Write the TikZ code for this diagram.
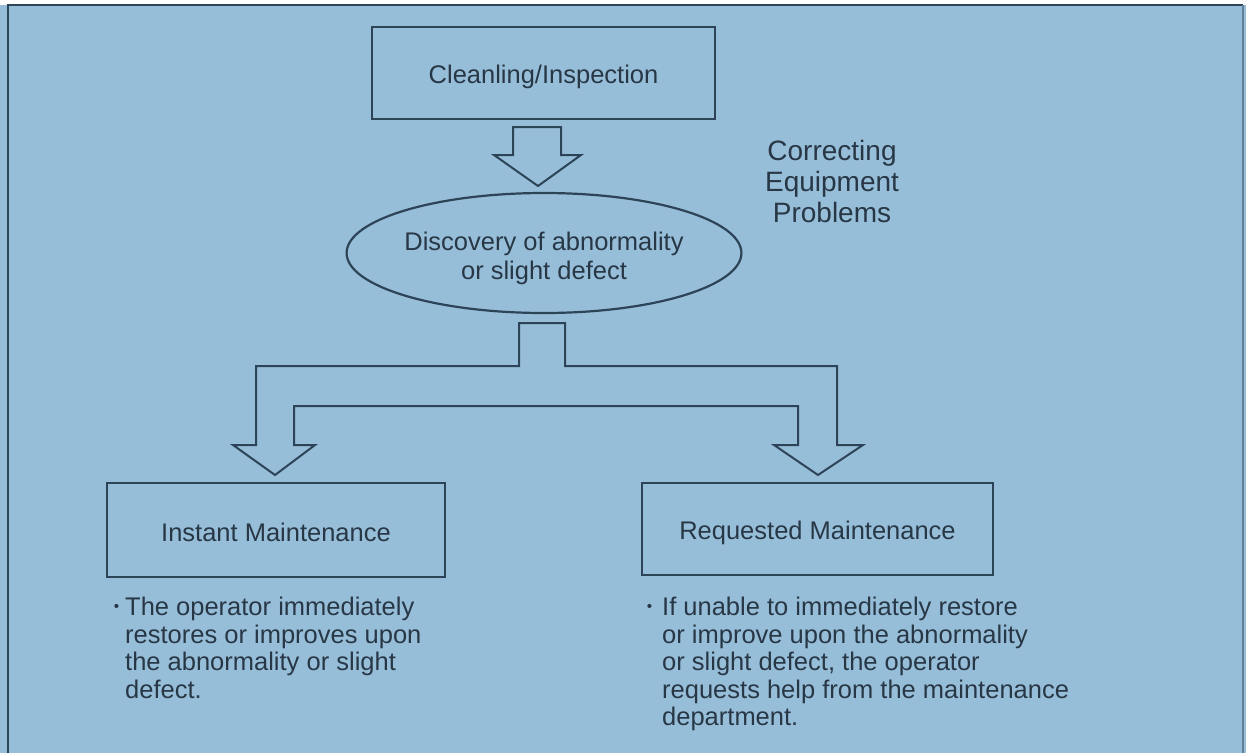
\documentclass[tikz,border=0pt]{standalone}
\usepackage{fontspec}
\setmainfont{Liberation Sans}
\usetikzlibrary{shapes.geometric}
\definecolor{bg}{RGB}{151,190,216}
\definecolor{ink}{RGB}{45,68,88}
\definecolor{txt}{RGB}{40,55,70}
\tikzset{
  box/.style={draw=ink, line width=2.2pt, rectangle, inner sep=0pt, text=txt,
    font=\fontsize{25.5}{29}\selectfont},
  oval/.style={draw=ink, line width=2.2pt, ellipse, inner sep=0pt, text=txt,
    font=\fontsize{25.5}{29}\selectfont},
  blockarrow/.style={draw=ink, line width=2pt, line join=miter},
  note/.style={inner sep=0pt, align=left, anchor=north west, text=txt,
    font=\fontsize{25.5}{27.5}\selectfont},
  titletext/.style={inner sep=0pt, align=center, text=txt, font=\fontsize{28}{31}\selectfont},
}
\newcommand{\smallbullet}{\raisebox{0.18em}{\scalebox{0.6}{\textbullet}}}
\newcommand{\lowered}[2]{\raisebox{-#1}[\height][\depth]{#2}}
\begin{document}
\begin{tikzpicture}[x=1pt,y=-1pt]
\useasboundingbox (0,0) rectangle (1246,753);
\fill[white] (0,0) rectangle (1246,753);
\fill[bg] (0,5) rectangle (1246,753);
\draw[ink, line width=2pt] (8,753) -- (8,5) -- (1243,5);
\draw[ink!50!bg, line width=1.5pt] (1243,5) -- (1243,753);

% nodes
\node[box, minimum width=343pt, minimum height=92pt] (clean) at (543.5,73) {\lowered{4pt}{Cleanling/Inspection}};
\node[oval, minimum width=348pt, minimum height=120pt] (disc) at (544,253)
  {\lowered{6pt}{\begin{tabular}{@{}c@{}}Discovery of abnormality\\or slight defect\end{tabular}}};
\node[titletext] (title) at (832,181) {Correcting\\Equipment\\Problems};
\node[box, minimum width=338pt, minimum height=94pt] (instant) at (276,530) {\lowered{2pt}{Instant Maintenance}};
\node[box, minimum width=351pt, minimum height=92pt] (request) at (817.5,529) {\lowered{4pt}{Requested Maintenance}};

\node[note] (instnote) at (125,597) {\llap{\smallbullet\hspace{6pt}}The operator immediately\\restores or improves upon\\the abnormality or slight\\defect.};
\node[note] (reqnote) at (662,597) {\llap{\smallbullet\hspace{10pt}}If unable to immediately restore\\or improve upon the abnormality\\or slight defect, the operator\\requests help from the maintenance\\department.};

% block arrow from clean to disc
\draw[blockarrow] (513,127) -- (561,127) -- (561,155) -- (581,155) -- (538,186)
  -- (494,155) -- (513,155) -- cycle;

% branching block arrow from disc to instant and request
\draw[blockarrow] (519,323) -- (565,323) -- (565,366) -- (837,366) -- (837,445)
  -- (863,445) -- (818,475) -- (774,445) -- (798,445) -- (798,406)
  -- (294,406) -- (294,445) -- (315,445) -- (275,475) -- (233,445)
  -- (256,445) -- (256,366) -- (519,366) -- cycle;
\end{tikzpicture}
\end{document}
